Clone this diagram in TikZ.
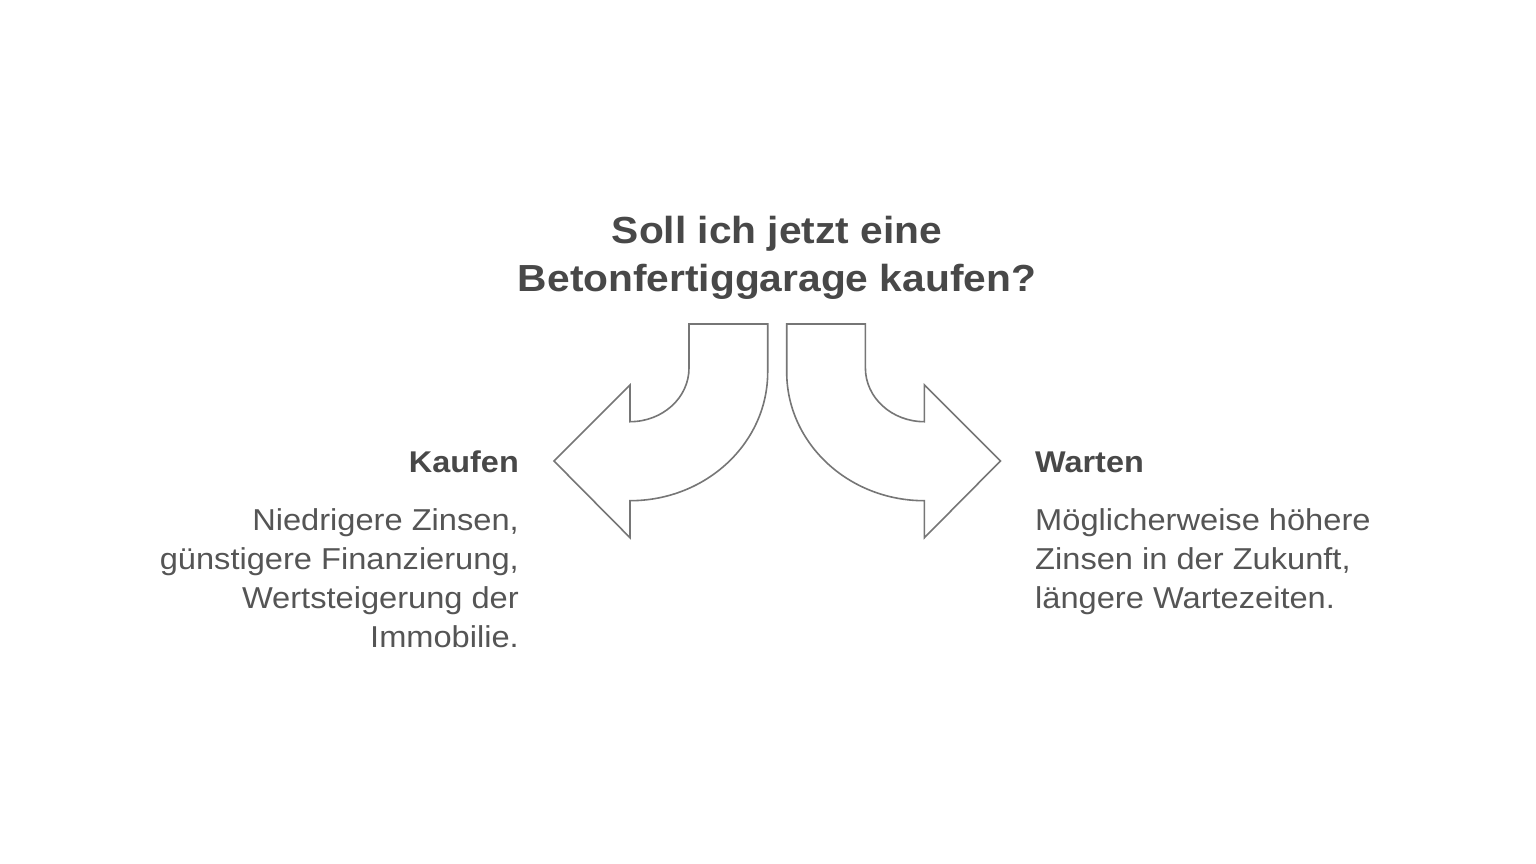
\documentclass[tikz,border=0pt]{standalone}
\usepackage{fontspec}
\setmainfont[FakeStretch=1.08]{Liberation Sans}
\definecolor{titlegray}{HTML}{484848}
\definecolor{bodygray}{HTML}{555555}
\definecolor{arrowgray}{HTML}{767676}
\begin{document}
\begin{tikzpicture}[x=1pt,y=-1pt,
  titletext/.style={text=titlegray,font=\fontsize{37.7}{44}\selectfont\bfseries,inner sep=0,anchor=base},
  headtext/.style={text=titlegray,font=\fontsize{30}{35}\selectfont\bfseries,inner sep=0},
  bodytext/.style={text=bodygray,font=\fontsize{30.2}{39}\selectfont,inner sep=0},
  bigarrow/.style={draw=arrowgray,line width=1.6pt,fill=white,line join=miter}]
\useasboundingbox[fill=white] (0,0) rectangle (1536,864);
% title
\node[titletext] (t1) at (777,243) {Soll ich jetzt eine};
\node[titletext] (t2) at (777,291) {Betonfertiggarage kaufen?};
% left arrow
\draw[bigarrow] (689,324) -- (767.7,324) -- (767.7,372)
  .. controls (767.7,443.1) and (706.1,500.7) .. (630,500.7)
  -- (630,537.7) -- (554,461) -- (630,385) -- (630,421.7)
  .. controls (662.6,421.7) and (689,397.7) .. (689,368) -- cycle;
% right arrow
\draw[bigarrow] (865.4,324) -- (786.7,324) -- (786.7,372)
  .. controls (786.7,443.1) and (848.3,500.7) .. (924.4,500.7)
  -- (924.4,537.7) -- (1000.4,461) -- (924.4,385) -- (924.4,421.7)
  .. controls (891.8,421.7) and (865.4,397.7) .. (865.4,368) -- cycle;
% left text
\node[headtext,anchor=base east] (kh) at (519,472) {Kaufen};
\node[bodytext,anchor=base east] (k1) at (519,530) {Niedrigere Zinsen,};
\node[bodytext,anchor=base east] (k2) at (519,569) {günstigere Finanzierung,};
\node[bodytext,anchor=base east] (k3) at (519,608) {Wertsteigerung der};
\node[bodytext,anchor=base east] (k4) at (519,647) {Immobilie.};
% right text
\node[headtext,anchor=base west] (wh) at (1035,472) {Warten};
\node[bodytext,anchor=base west] (w1) at (1035,530) {Möglicherweise höhere};
\node[bodytext,anchor=base west] (w2) at (1035,569) {Zinsen in der Zukunft,};
\node[bodytext,anchor=base west] (w3) at (1035,608) {längere Wartezeiten.};
\end{tikzpicture}
\end{document}
